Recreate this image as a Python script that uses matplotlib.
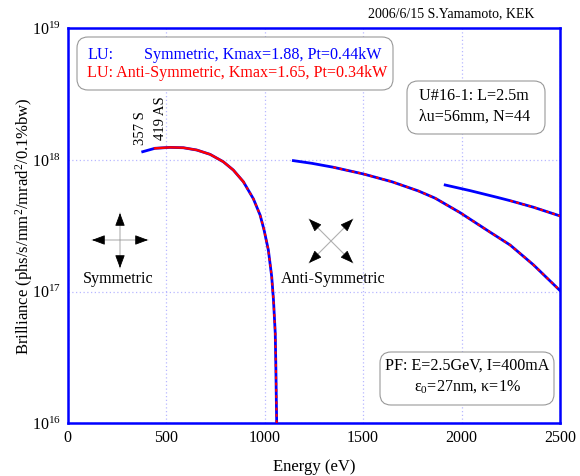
from matplotlib import pyplot as plt
from matplotlib.patches import FancyBboxPatch
from matplotlib.transforms import IdentityTransform

plt.rcParams['font.family'] = ['Liberation Serif', 'DejaVu Serif']
plt.rcParams['mathtext.fontset'] = 'custom'
plt.rcParams['mathtext.rm'] = 'Liberation Serif'
plt.rcParams['mathtext.it'] = 'Liberation Serif:italic'

# 1st harmonic, symmetric mode (blue)
e1_sym = [381, 443, 520, 587, 655, 723, 790, 841, 892, 943, 977, 997, 1019, 1036, 1045, 1054, 1057, 1061, 1063]
b1_sym = [1.156e18, 1.227e18, 1.247e18, 1.239e18, 1.191e18, 1.104e18, 9.7e17, 8.39e17, 6.84e17,
          5.07e17, 3.82e17, 2.95e17, 2.07e17, 1.3e17, 8.65e16, 4.83e16, 2.69e16, 1.06e16, 8e15]
# 3rd harmonic
e3_sym = [1146, 1239, 1349, 1502, 1646, 1781, 1866, 1993, 2128, 2247, 2365, 2500]
b3_sym = [9.89e17, 9.44e17, 8.81e17, 7.83e17, 6.84e17, 5.82e17, 5.13e17, 3.98e17, 2.94e17,
          2.26e17, 1.6e17, 1.02e17]
# 5th harmonic
e5_sym = [1917, 2044, 2180, 2247, 2365, 2500]
b5_sym = [6.46e17, 5.85e17, 5.21e17, 4.91e17, 4.38e17, 3.76e17]

# anti-symmetric mode (red)
e1_anti = [443, 520, 587, 655, 723, 790, 841, 892]
b1_anti = [1.227e18, 1.247e18, 1.239e18, 1.191e18, 1.104e18, 9.7e17, 8.39e17, 6.84e17]
e1_anti_tail = [892, 943, 977, 997, 1019, 1036, 1045, 1054, 1057, 1061, 1063]
b1_anti_tail = [6.84e17, 5.07e17, 3.82e17, 2.95e17, 2.07e17, 1.3e17, 8.65e16, 4.83e16, 2.69e16, 1.06e16, 8e15]
e3_anti = [1349, 1502, 1646, 1781, 1866, 1993, 2128, 2247, 2365, 2500]
b3_anti = [8.81e17, 7.83e17, 6.84e17, 5.82e17, 5.13e17, 3.98e17, 2.94e17, 2.26e17, 1.6e17, 1.02e17]
e5_anti = [2247, 2365, 2500]
b5_anti = [4.91e17, 4.38e17, 3.76e17]

xticks = [0, 500, 1000, 1500, 2000, 2500]

W, H = 580, 476
fig = plt.figure(figsize=(W / 100, H / 100), dpi=100)
ax = fig.add_axes([67.7 / W, (H - 423.4) / H, 492.3 / W, 395.1 / H])

blue = '#0000ff'
red = '#ff0000'
ax.plot(e1_sym, b1_sym, color=blue, lw=2.0, zorder=3)
ax.plot(e3_sym, b3_sym, color=blue, lw=2.0, zorder=3)
ax.plot(e5_sym, b5_sym, color=blue, lw=2.0, zorder=3)
ax.plot(e1_anti, b1_anti, color=red, lw=1.7, zorder=4)
for e, b in [(e1_anti_tail, b1_anti_tail), (e3_anti, b3_anti), (e5_anti, b5_anti)]:
    ax.plot(e, b, color=red, lw=1.5, ls=(0, (1.4, 1.6)), zorder=4)

ax.set_yscale('log')
ax.set_xlim(0, 2500)
ax.set_ylim(1e16, 1e19)
ax.set_xticks(xticks)
ax.minorticks_off()
ax.tick_params(length=0, labelsize=11.5, pad=5)
for s in ax.spines.values():
    s.set_color(blue)
    s.set_linewidth(1.8)
ax.grid(True, color='#b8b8ff', linestyle=(0, (1, 2)), linewidth=0.9)

ax.set_xlabel('Energy (eV)', fontsize=12, labelpad=9)
ax.set_ylabel('Brilliance (phs/s/mm$^2$/mrad$^2$/0.1%bw)', fontsize=12, labelpad=-2)

fig.text(534 / W, (H - 14) / H, '2006/6/15 S.Yamamoto, KEK', fontsize=10, ha='right', va='center')


def box(x0, y0, x1, y1):
    p = FancyBboxPatch((x0, H - y1), x1 - x0, y1 - y0, boxstyle='round,pad=0,rounding_size=11',
                       transform=IdentityTransform(), fc='white', ec='#999999', lw=0.8, zorder=5)
    fig.patches.append(p)


def ptext(x, y, s, **kw):
    fig.text(x / W, (H - y) / H, s, va='center', zorder=6, **kw)


box(77, 37, 393, 90)
ptext(87, 55, 'LU:', color=blue, fontsize=11.6)
ptext(381, 55, 'Symmetric, Kmax=1.88, Pt=0.44kW', color=blue, fontsize=11.6, ha='right')
ptext(87, 73, 'LU: Anti-Symmetric, Kmax=1.65, Pt=0.34kW', color=red, fontsize=11.6)

box(407, 81, 545, 134)
ptext(419, 96, 'U#16-1: L=2.5m', fontsize=11.6)
ptext(419, 117, 'λu=56mm, N=44', fontsize=11.6)

box(380, 352, 554, 405)
ptext(467, 366, 'PF: E=2.5GeV, I=400mA', fontsize=11.6, ha='center')
ptext(467, 387, r'$\mathregular{\varepsilon_0}$=27nm, κ=1%', fontsize=11.6, ha='center')

ptext(141, 128, '357 S', fontsize=10.5, rotation=90, ha='center')
ptext(160, 118, '419 AS', fontsize=10.5, rotation=90, ha='center')


def arrow(cx, cy, tx, ty):
    ax.annotate('', xy=(tx, H - ty), xytext=(cx, H - cy), xycoords='figure pixels',
                textcoords='figure pixels',
                arrowprops=dict(arrowstyle='-', color='#b0b0b0', lw=0.8, shrinkA=0, shrinkB=0))
    dx, dy = tx - cx, ty - cy
    ax.annotate('', xy=(tx, H - ty), xytext=(tx - 0.35 * dx, H - (ty - 0.35 * dy)),
                xycoords='figure pixels', textcoords='figure pixels',
                arrowprops=dict(arrowstyle='-|>,head_length=0.8,head_width=0.3', color='black',
                                lw=0.6, shrinkA=0, shrinkB=0))


for t in [(92, 240), (148, 240), (120, 213), (120, 268)]:
    arrow(120, 240, *t)
ptext(118, 279, 'Symmetric', fontsize=11.6, ha='center')

for t in [(309, 219), (353, 219), (309, 263), (353, 263)]:
    arrow(331, 241, *t)
ptext(333, 279, 'Anti-Symmetric', fontsize=11.6, ha='center')

plt.savefig('out.png', dpi=100)
